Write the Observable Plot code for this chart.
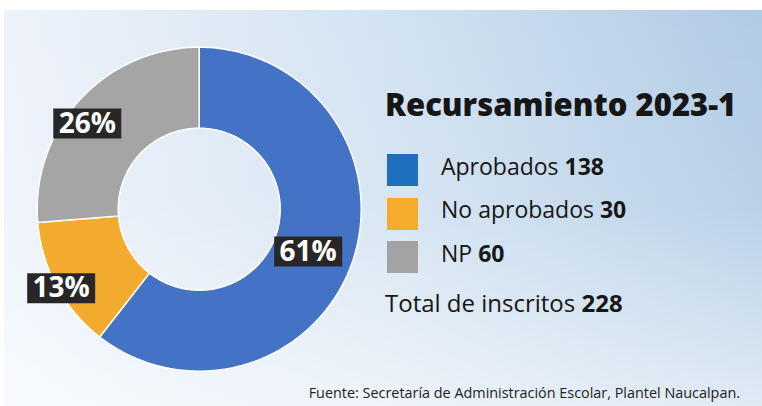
<!DOCTYPE html>
<html>
<head>
<meta charset="utf-8">
<script src="https://cdn.jsdelivr.net/npm/d3@7"></script>
<script src="https://cdn.jsdelivr.net/npm/@observablehq/plot@0.6"></script>
<style>
  html, body { margin: 0; padding: 0; background: #ffffff; }
  #wrap { position: relative; width: 762px; height: 406px; overflow: hidden; background: #ffffff; font-family: "Open Sans", sans-serif; color: #161616; }
  #panel { position: absolute; left: 4px; top: 10px; width: 758px; height: 396px;
    background:
      linear-gradient(to bottom, rgba(255,255,255,0) 0%, rgba(255,255,255,0.12) 50%, rgba(255,255,255,0.6) 100%),
      linear-gradient(to right, #eef3fb 0%, #d3e3f2 50%, #b0cbe4 100%); }
  #chart { position: absolute; left: 0; top: 0; }
  .t { position: absolute; white-space: nowrap; line-height: 1; }
  .sw { position: absolute; width: 31px; height: 32px; }
  b { font-weight: 700; }
</style>
</head>
<body>
<div id="wrap">
  <div id="panel"></div>
  <div id="chart"></div>
</div>
<script>
// ---- data ----
const title = "Recursamiento 2023-1";
const categories = ["Aprobados", "No aprobados", "NP"];
const values = [138, 30, 60];
const totalLabel = "Total de inscritos";
const source = "Fuente: Secretaría de Administración Escolar, Plantel Naucalpan.";

// ---- styles ----
const pieColors = ["#4472c4", "#f3ab2d", "#a5a5a5"];
const legendColors = ["#1f6fbf", "#f5ab2c", "#a3a3a3"];
const labelPlacement = {
  "Aprobados": {r: 0.722, turn: 2.3},
  "No aprobados": {r: 0.982, turn: -1.4},
  "NP": {r: 0.87, turn: -5.2}
};
const innerRatio = 0.5;

const total = d3.sum(values);
const pie = d3.pie().sort(null).value(d => d.value)(categories.map((c, i) => ({category: c, value: values[i]})));

// polygon outline of each donut slice in unit coordinates (y up, angle clockwise from top)
const arcPoints = [];
for (const s of pie) {
  const n = Math.max(2, Math.ceil((s.endAngle - s.startAngle) / (Math.PI / 180)));
  const outer = [], inner = [];
  for (let k = 0; k <= n; k++) {
    const a = s.startAngle + (s.endAngle - s.startAngle) * k / n;
    outer.push({category: s.data.category, x: Math.sin(a), y: Math.cos(a)});
    inner.push({category: s.data.category, x: innerRatio * Math.sin(a), y: innerRatio * Math.cos(a)});
  }
  arcPoints.push(...outer, ...inner.reverse());
}

const labels = pie.map(s => {
  const p = labelPlacement[s.data.category];
  const a = (s.startAngle + s.endAngle) / 2 + p.turn * Math.PI / 180;
  return {
    category: s.data.category,
    x: p.r * Math.sin(a),
    y: p.r * Math.cos(a),
    label: Math.round(100 * s.data.value / total) + "%"
  };
});

const boxSymbol = { draw(ctx) { ctx.rect(-34, -15, 68, 30); } };

const plot = Plot.plot({
  width: 380,
  height: 406,
  marginLeft: 36.7,
  marginRight: 19.3,
  marginTop: 46.7,
  marginBottom: 35.3,
  x: {domain: [-1, 1], axis: null},
  y: {domain: [-1, 1], axis: null},
  color: {type: "ordinal", domain: categories, range: pieColors},
  style: {background: "transparent", overflow: "visible", fontFamily: "Open Sans"},
  marks: [
    Plot.line(arcPoints, {x: "x", y: "y", z: "category", fill: "category", stroke: "white", strokeWidth: 1.5, curve: "linear-closed"}),
    Plot.dot(labels, {x: "x", y: "y", symbol: boxSymbol, r: 5, fill: "#272727", stroke: "none"}),
    Plot.text(labels, {x: "x", y: "y", text: "label", fill: "white", fontSize: 28, fontWeight: "bold", fontFamily: "Open Sans"})
  ]
});
document.getElementById("chart").appendChild(plot);

// ---- legend & texts ----
const wrap = d3.select("#wrap");
wrap.append("div").attr("class", "t")
  .style("left", "385px").style("top", "88.5px")
  .style("font-size", "31px").style("font-weight", "800")
  .text(title);

categories.forEach((c, i) => {
  wrap.append("div").attr("class", "sw")
    .style("left", "387px").style("top", (154 + i * 43.5) + "px")
    .style("background", legendColors[i]);
  const row = wrap.append("div").attr("class", "t")
    .style("left", "441px").style("top", (154.6 + i * 43.8) + "px")
    .style("font-size", "23px");
  row.append("span").text(c + " ");
  row.append("b").text(values[i]);
});

const tot = wrap.append("div").attr("class", "t")
  .style("left", "385px").style("top", "290.7px").style("font-size", "24px");
tot.append("span").text(totalLabel + " ");
tot.append("b").text(total);

wrap.append("div").attr("class", "t")
  .style("right", "22px").style("top", "385.5px").style("font-size", "14.4px").style("color", "#222")
  .text(source);
</script>
</body>
</html>
